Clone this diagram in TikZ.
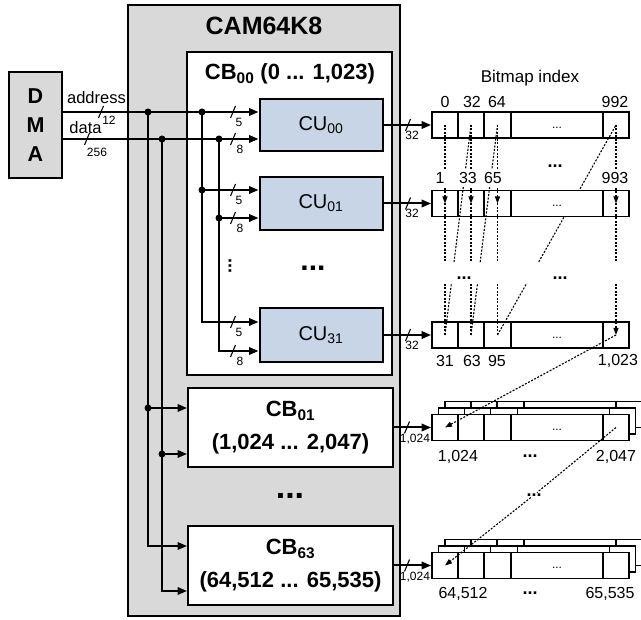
\documentclass[tikz,border=0pt]{standalone}
\usepackage{fontspec}
\setmainfont{Liberation Sans}
\usetikzlibrary{arrows.meta}
\definecolor{camgrey}{RGB}{217,217,217}
\definecolor{cublue}{RGB}{200,213,230}

\begin{document}
\begin{tikzpicture}[x=1pt,y=-1pt,line join=miter,>={Triangle[length=9.5pt,width=7.5pt]},
box/.style={draw,line width=2pt,inner sep=0pt},
bus/.style={line width=2pt},
slash/.style={line width=1.1pt},
buslabel/.style={font=\fontsize{12}{12}\selectfont,inner sep=0pt},
junction/.style={circle,fill=black,inner sep=0pt,minimum size=7pt},
cell/.style={draw,fill=white,line width=1.8pt,minimum height=26pt,inner sep=0pt},
link/.style={line width=1.1pt,dash pattern=on 2pt off 1.5pt},
tip/.style={-{Triangle[length=7pt,width=5pt]}},
idx/.style={font=\fontsize{16}{16}\selectfont,inner sep=0pt},
more/.style={font=\fontsize{18}{18}\selectfont\bfseries,inner sep=1pt}]
\useasboundingbox (0,0) rectangle (641,620);
% DMA and the CAM frame
\node[box,fill=camgrey,minimum width=53pt,minimum height=106pt,align=center,font=\fontsize{21.5}{29}\selectfont\bfseries] (dma) at (35.5,125) {D\\M\\A};
\node[box,fill=camgrey,minimum width=272pt,minimum height=611pt] (cam) at (264,310.5) {};
\node[font=\fontsize{25}{25}\selectfont\bfseries] (camname) at (264,26) {CAM64K8};
% first CAM block and its units
\node[box,fill=white,minimum width=205pt,minimum height=323pt] (cb00) at (289.5,213.5) {};
\node[font=\fontsize{22}{22}\selectfont\bfseries] (cb00name) at (290,74) {CB\textsubscript{00} (0 ... 1,023)};
\foreach \n/\y/\h in {00/125/52,01/203.5/53,31/335/54}
  \node[box,fill=cublue,minimum width=123pt,minimum height=\h pt,font=\fontsize{20}{20}\selectfont] (cu\n) at (321,\y) {CU\textsubscript{\n}};
\node[more,font=\fontsize{30}{30}\selectfont\bfseries] (cudots) at (313,268) {...};
\node[more,rotate=90] (cuvdots) at (230,266) {...};
% the other CAM blocks
\node[box,fill=white,minimum width=205pt,minimum height=79pt,align=center,font=\fontsize{22}{33}\selectfont\bfseries] (cb01) at (290.5,427.5) {CB\textsubscript{01}\\(1,024 ... 2,047)};
\node[box,fill=white,minimum width=205pt,minimum height=79pt,align=center,font=\fontsize{22}{33}\selectfont\bfseries] (cb63) at (290.5,565.5) {CB\textsubscript{63}\\(64,512 ... 65,535)};
\node[more,font=\fontsize{34}{34}\selectfont\bfseries] (cbdots) at (290,496) {...};
% address and data buses
\node[font=\fontsize{16.5}{16.5}\selectfont,inner sep=0pt] (addr) at (96.5,98) {address};
\node[font=\fontsize{16.5}{16.5}\selectfont,inner sep=0pt] (data) at (85.5,128) {data};
\node[junction] (ja) at (148,112) {};
\node[junction] (jd) at (162,139) {};
\node[junction] (jb) at (202,112) {};
\node[junction] (je) at (219,139) {};
\node[junction] (jb1) at (202,190) {};
\node[junction] (je1) at (219,218) {};
\node[junction] (jc1) at (148,408) {};
\node[junction] (jf1) at (162,454) {};
\coordinate (kb) at (202,322);
\coordinate (ke) at (219,351);
\coordinate (kc) at (148,546);
\coordinate (kf) at (162,591);
\draw[bus,->] (dma.east |- ja) -- (cu00.west |- ja);
\draw[bus,->] (dma.east |- jd) -- (cu00.west |- jd);
\draw[bus,->] (jb1.center) -- (cu01.west |- jb1);
\draw[bus,->] (je1.center) -- (cu01.west |- je1);
\draw[bus,->] (jb.center) -- (kb) -- (cu31.west |- kb);
\draw[bus,->] (je.center) -- (ke) -- (cu31.west |- ke);
\draw[bus,->] (jc1.center) -- (cb01.west |- jc1);
\draw[bus,->] (jf1.center) -- (cb01.west |- jf1);
\draw[bus,->] (ja.center) -- (kc) -- (cb63.west |- kc);
\draw[bus,->] (jd.center) -- (kf) -- (cb63.west |- kf);
\foreach \x/\y/\w/\dx/\dy [count=\i] in {101/112/12/8/8,87/139/256/10/13,233/112/5/6/10,233/139/8/7/10,233/190/5/6/10,233/218/8/7/10,233/322/5/6/10,233/351/8/7/10,408/125/32/4/10,408/203.5/32/4/10,408/335/32/4/10,407/427.5/{1,024}/8/12,407/565.5/{1,024}/8/12}{
  \draw[slash] (\x-2.5,\y+6) -- (\x+2.5,\y-6);
  \node[buslabel] (bw\i) at (\x+\dx,\y+\dy) {\w};}
% bitmap rows
\foreach \row/\y in {0/125,31/335}{
  \foreach \k/\x/\w in {0/445/26,1/471/26,2/497.5/27,3/557/92,4/616/26}
    \node[cell,minimum width=\w pt] (r\row-\k) at (\x,\y) {};
  \node[font=\fontsize{12}{12}\selectfont,inner sep=0pt] (r\row-dots) at ([yshift=-2.5pt]r\row-3.center) {...};}
\draw[link] (r31-2.center) -- (r0-4.center);
\foreach \row/\y in {1/203.5}{
  \foreach \k/\x/\w in {0/445/26,1/471/26,2/497.5/27,3/557/92,4/616/26}
    \node[cell,minimum width=\w pt] (r\row-\k) at (\x,\y) {};
  \node[font=\fontsize{12}{12}\selectfont,inner sep=0pt] (r\row-dots) at ([yshift=-2.5pt]r\row-3.center) {...};}
\foreach \m/\y in {01/427.5,63/565.5}{
  \foreach \lay/\s in {2/13,1/6.5,0/0}
    \foreach \k/\x/\w in {0/445/26,1/471/26,2/497.5/27,3/557/92,4/616/26}
      \node[cell,minimum width=\w pt] (m\m-\lay-\k) at (\x+\s,\y-\s) {};
  \node[font=\fontsize{12}{12}\selectfont,inner sep=0pt] (m\m-dots) at ([yshift=-2.5pt]m\m-0-3.center) {...};}
\draw[bus,->] (cu00.east) -- (r0-0.west);
\draw[bus,->] (cu01.east) -- (r1-0.west);
\draw[bus,->] (cu31.east) -- (r31-0.west);
\draw[bus,->] (cb01.east) -- (m01-0-0.west);
\draw[bus,->] (cb63.east) -- (m63-0-0.west);
% order of the bits
\node[more] (bmdots) at (534,495) {...};
\foreach \k in {0,1,2,4}
  \draw[link,tip] (r0-\k.center) -- (r1-\k.center);
\foreach \k in {0,1,2}
  \draw[link] (r1-\k.center) -- (r31-\k.center);
\draw[link,tip] (r1-4.center) -- (r31-4.center);
\draw[link] (r31-0.center) -- (r0-1.center);
\draw[link] (r31-1.center) -- (r0-2.center);
\draw[link,tip] (r31-4.center) -- (m01-0-0.center);
\draw[link] (m01-0-4.center) -- (bmdots);
\draw[link,tip] (bmdots) -- (m63-0-0.center);
\fill[white] (434,263) rectangle (627,283);
\node[more] (rowdots1) at (555,166) {...};
\node[more] (rowdots2) at (464,278) {...};
\node[more] (rowdots3) at (560,278) {...};
\node[more] (m01more) at (530,456) {...};
\node[more] (m63more) at (530,593) {...};
% index labels
\node[font=\fontsize{17}{17}\selectfont,inner sep=0pt] (bmtitle) at (530,78) {Bitmap index};
\foreach \txt/\x [count=\i] in {0/445,32/472,64/497,992/615}
  \node[idx] (i0-\i) at (\x,102) {\txt};
\foreach \txt/\x [count=\i] in {1/440,33/468,65/493,993/615}
  \node[idx,fill=white,inner sep=3pt] (i1-\i) at (\x,178) {\txt};
\foreach \txt/\x [count=\i] in {31/445,63/472,95/497,{1,023}/618}
  \node[idx] (i31-\i) at (\x,361) {\txt};
\node[idx] (i01a) at (458,456.5) {1,024};
\node[idx] (i01b) at (616,456.5) {2,047};
\node[idx] (i63a) at (463,593.5) {64,512};
\node[idx] (i63b) at (610,593.5) {65,535};
\end{tikzpicture}
\end{document}
